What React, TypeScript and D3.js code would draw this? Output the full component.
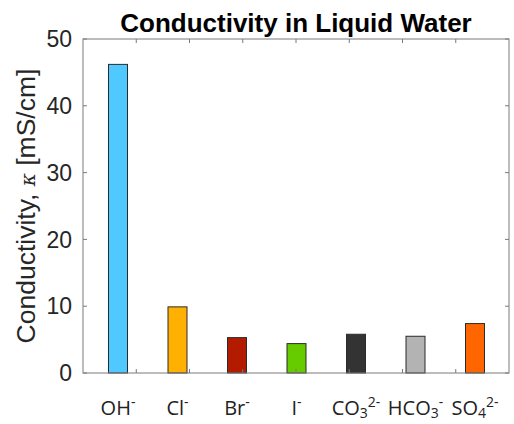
import { useEffect, useRef } from 'react';
import * as d3 from 'd3';

// ion labels split into base / subscript / superscript
const ionBase = ['OH', 'Cl', 'Br', 'I', 'CO', 'HCO', 'SO'];
const ionSub = ['', '', '', '', '3', '3', '4'];
const ionSup = ['-', '-', '-', '-', '2-', '-', '2-'];
const conductivity = [46.2, 9.9, 5.3, 4.4, 5.8, 5.5, 7.4];
const barColors = ['#4fc9ff', '#ffb000', '#b31b00', '#66cc00', '#333333', '#b3b3b3', '#ff6600'];
const yTicks = [0, 10, 20, 30, 40, 50];
const xTicks = [1, 2, 3, 4, 5, 6, 7];

export default function App() {
  const svgRef = useRef<SVGSVGElement>(null);

  useEffect(() => {
    if (!svgRef.current) return;
    const svg = d3.select(svgRef.current);
    svg.selectAll('*').remove();

    const left = 83;
    const right = 509;
    const top = 39;
    const bottom = 373;
    const axisColor = '#7a7a7a';

    const y = d3.scaleLinear().domain([0, 50]).range([bottom, top]);
    // MATLAB-style tick grid along x (8 divisions)
    const xTick = d3.scaleLinear().domain([0, 8]).range([left, right]);
    // bar positions
    const x = d3.scalePoint<string>().domain(ionBase.map((d, i) => `${i}`)).range([118, 475]);
    const barW = 19;

    // bars
    svg
      .append('g')
      .selectAll('rect')
      .data(conductivity)
      .enter()
      .append('rect')
      .attr('x', (_, i) => (x(`${i}`) as number) - barW / 2)
      .attr('y', (d) => y(d))
      .attr('width', barW)
      .attr('height', (d) => bottom - y(d))
      .attr('fill', (_, i) => barColors[i])
      .attr('stroke', '#2b2b2b')
      .attr('stroke-width', 1);

    // box
    svg
      .append('rect')
      .attr('x', left)
      .attr('y', top)
      .attr('width', right - left)
      .attr('height', bottom - top)
      .attr('fill', 'none')
      .attr('stroke', axisColor)
      .attr('stroke-width', 1);

    const tickLen = 4;
    const ticks = svg.append('g').attr('stroke', axisColor).attr('stroke-width', 1);
    yTicks.forEach((t) => {
      ticks.append('line').attr('x1', left).attr('x2', left + tickLen).attr('y1', y(t)).attr('y2', y(t));
      ticks.append('line').attr('x1', right).attr('x2', right - tickLen).attr('y1', y(t)).attr('y2', y(t));
    });
    xTicks.forEach((t) => {
      ticks.append('line').attr('x1', xTick(t)).attr('x2', xTick(t)).attr('y1', top).attr('y2', top + tickLen);
      ticks.append('line').attr('x1', xTick(t)).attr('x2', xTick(t)).attr('y1', bottom).attr('y2', bottom - tickLen);
    });

    // y tick labels
    svg
      .append('g')
      .selectAll('text')
      .data(yTicks)
      .enter()
      .append('text')
      .attr('x', left - 11)
      .attr('y', (d) => y(d))
      .attr('dy', '0.36em')
      .attr('text-anchor', 'end')
      .attr('font-family', 'Liberation Sans, Arial, sans-serif')
      .attr('font-size', 23)
      .attr('fill', '#262626')
      .text((d) => d);

    // x category labels
    const lbl = svg
      .append('g')
      .selectAll('text')
      .data(ionBase)
      .enter()
      .append('text')
      .attr('x', (_, i) => x(`${i}`) as number)
      .attr('y', 415)
      .attr('text-anchor', 'middle')
      .attr('font-family', 'Open Sans, sans-serif')
      .attr('font-size', 20)
      .attr('fill', '#222');
    lbl.append('tspan').text((d) => d);
    lbl
      .append('tspan')
      .attr('font-size', 14)
      .attr('dy', (_, i) => (ionSub[i] ? 3 : 0))
      .text((_, i) => ionSub[i]);
    lbl
      .append('tspan')
      .attr('font-size', 14)
      .attr('dy', (_, i) => (ionSub[i] ? -11 : -8))
      .text((_, i) => ionSup[i]);

    // title
    svg
      .append('text')
      .attr('x', (left + right) / 2)
      .attr('y', 32)
      .attr('text-anchor', 'middle')
      .attr('font-family', 'Liberation Sans, Arial, sans-serif')
      .attr('font-weight', 'bold')
      .attr('font-size', 26)
      .attr('fill', '#000')
      .text('Conductivity in Liquid Water');

    // y axis label
    const yl = svg
      .append('text')
      .attr('transform', `translate(35,${(top + bottom) / 2}) rotate(-90)`)
      .attr('text-anchor', 'middle')
      .attr('font-family', 'Liberation Sans, Arial, sans-serif')
      .attr('font-size', 26.5)
      .attr('fill', '#262626');
    yl.append('tspan').text('Conductivity, ');
    yl.append('tspan').attr('font-family', 'DejaVu Serif, serif').attr('font-style', 'italic').attr('font-size', 20).text('κ');
    yl.append('tspan').text(' [mS/cm]');
  }, []);

  return (
    <svg
      ref={svgRef}
      width={514}
      height={424}
      style={{ position: 'absolute', left: 0, top: 0, background: '#fff' }}
    />
  );
}
